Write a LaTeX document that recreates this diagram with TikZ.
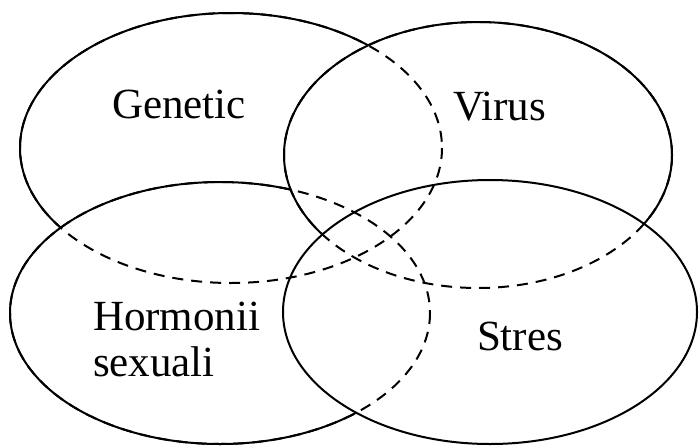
\documentclass[tikz,border=0pt]{standalone}
\usepackage{fontspec}
\setmainfont{Liberation Serif}
\begin{document}
\begin{tikzpicture}[x=1pt,y=-1pt,line width=2pt,
  hidden/.style={dash pattern=on 11pt off 8pt},
  lbl/.style={font=\fontsize{43}{46}\selectfont,inner sep=0pt,align=left}]
\useasboundingbox (0,0) rectangle (700,447);
% opaque sets, back to front: genetic, hormones, virus, stress
\draw (231,148) ellipse [x radius=211,y radius=135];
\draw[fill=white] (220,313) ellipse [x radius=210,y radius=131];
\draw[fill=white] (478,155) ellipse [x radius=194,y radius=133];
\draw[fill=white] (490,312) ellipse [x radius=207,y radius=132];
% hidden outlines
\draw[hidden] (231,148) ellipse [x radius=211,y radius=135];
\draw[hidden] (220,313) ellipse [x radius=210,y radius=131];
\draw[hidden] (478,155) ellipse [x radius=194,y radius=133];
\node[lbl,anchor=base west] (genetic) at (111,118) {Genetic};
\node[lbl,anchor=base west] (virus) at (452,120) {Virus};
\node[lbl,anchor=north west] (hormoni) at (92,301) {Hormonii\\sexuali};
\node[lbl,anchor=base west] (stres) at (476,350) {Stres};
\end{tikzpicture}
\end{document}
